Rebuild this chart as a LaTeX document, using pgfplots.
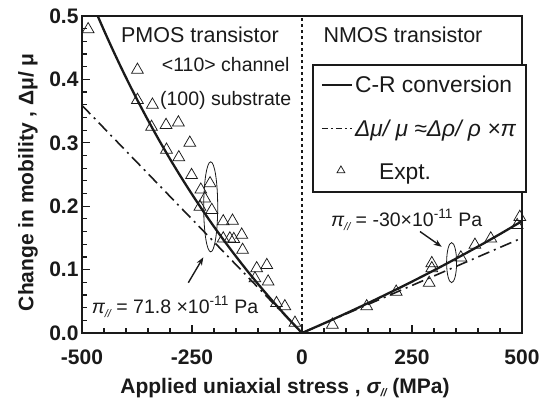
\documentclass[border=0pt]{standalone}
\usepackage{fontspec}
\setmainfont{Liberation Sans}
\usepackage{pgfplots}
\pgfplotsset{compat=1.18}
\usetikzlibrary{calc,arrows.meta}
\definecolor{ink}{HTML}{1A1A1A}
\begin{document}
\begin{tikzpicture}
\begin{axis}[
 name=ax,
 scale only axis, width=440pt, height=317pt,
 xmin=-500, xmax=500, ymin=0, ymax=0.5,
 xtick={-500,-250,0,250,500},
 ytick={0,0.1,0.2,0.3,0.4,0.5},
 minor x tick num=4, minor y tick num=4,
 tick pos=left, tick align=inside,
 major tick length=8pt, minor tick length=5pt,
 every tick/.style={line width=1.2pt, ink},
 axis line style={line width=2.2pt, ink},
 /pgf/number format/assume math mode=true,
 y tick label style={/pgf/number format/fixed, /pgf/number format/fixed zerofill, /pgf/number format/precision=1},
 x tick label style={yshift=-13pt},
 ticklabel style={font=\fontsize{21}{22}\selectfont\bfseries, text=ink},
 xlabel={Applied uniaxial stress , {\itshape σ}\raisebox{-0.35ex}{\fontsize{11}{11}\selectfont\itshape //} (MPa)},
 ylabel={Change in mobility , Δμ/ μ},
 label style={font=\fontsize{21}{24}\selectfont\bfseries, text=ink},
 xlabel style={at={(axis description cs:0.4614,-0.1725)}, anchor=center},
 ylabel style={at={(axis description cs:-0.1227,0.476)}, anchor=center},
 legend style={at={(axis description cs:0.5227,0.8486)}, anchor=north west,
   draw=ink, line width=1.6pt, font=\fontsize{22.8}{25}\selectfont, text=ink,
   row sep=22pt, inner xsep=8pt, inner ysep=9pt, fill=white},
 legend cell align=left,
]
% C-R conversion, PMOS
\addplot[ink, line width=2.3pt, smooth,
  legend image code/.code={\draw[ink, line width=2.3pt] (0pt,0pt) -- (30pt,0pt);}] coordinates {
 (-470,0.5093) (-450,0.47732) (-425,0.43916) (-400,0.40292) (-375,0.36846)
 (-350,0.33565) (-325,0.30438) (-300,0.27454) (-275,0.24603) (-250,0.21877)
 (-225,0.19268) (-200,0.16768) (-175,0.14371) (-150,0.12070) (-125,0.09860)
 (-100,0.07735) (-75,0.05691) (-50,0.03724) (-25,0.01828) (0,0)
};
\addlegendentry{C-R conversion}
% linear approximation, PMOS
\addplot[ink, line width=1.6pt, dash pattern=on 12pt off 5pt on 2pt off 5pt,
  legend image code/.code={\draw[ink, line width=1.3pt, dash pattern=on 6pt off 3pt on 2pt off 3pt] (0pt,0pt) -- (30pt,0pt);}] coordinates {
 (-500,0.359) (0,0)
};
\addlegendentry{\itshape Δμ/ μ ≈Δρ/ ρ ×π}
% experiments
\addplot[only marks, mark=triangle, mark size=6.8pt, ink, line width=0.75pt,
  legend image code/.code={\draw[ink, line width=0.75pt] plot[mark=triangle, mark size=4.5pt] coordinates {(19pt,2pt)};}] coordinates {
 (-486,0.479) (-374,0.415) (-374,0.3675) (-340,0.36) (-342,0.325)
 (-309,0.328) (-281,0.332) (-308,0.289) (-255,0.300) (-280,0.277)
 (-251,0.249) (-209,0.236) (-230,0.226) (-221,0.212) (-232,0.199)
 (-205,0.194) (-179,0.176) (-158,0.177) (-179,0.149) (-164,0.149)
 (-155,0.148) (-137,0.155) (-135,0.131) (-103,0.102) (-80,0.107)
 (-107,0.086) (-77,0.081) (-58,0.047) (-39,0.042) (-16,0.016)
 (69,0.013) (147,0.042) (214,0.065) (295,0.110) (295,0.102)
 (289,0.079) (361,0.119) (393,0.139) (429,0.149) (489,0.170) (495,0.183)
};
\addlegendentry{\hspace{24pt}Expt.}
% C-R conversion, NMOS
\addplot[ink, line width=2.3pt, smooth, forget plot] coordinates {
 (0,0) (50,0.01523) (100,0.03093) (150,0.04712) (200,0.06383) (250,0.08108)
 (300,0.09890) (350,0.11732) (400,0.13636) (450,0.15607) (500,0.17647)
};
% linear approximation, NMOS
\addplot[ink, line width=1.6pt, dash pattern=on 12pt off 5pt on 2pt off 5pt, forget plot] coordinates {
 (0,0) (500,0.15)
};
% divider
\draw[ink, line width=1.5pt, dash pattern=on 3pt off 3pt] (axis cs:0,0) -- (axis cs:0,0.5);
% ellipses and arrows
\draw[ink, line width=0.8pt] (axis cs:-207.5,0.199) ellipse [x radius=7pt, y radius=45pt];
\draw[ink, line width=0.8pt] (axis cs:340,0.111) ellipse [x radius=5pt, y radius=20pt];
\draw[ink, line width=1.4pt, -{Stealth[length=8pt,width=6pt]}] (axis cs:-258.4,0.0793) -- (axis cs:-224.3,0.1194);
\draw[ink, line width=1.4pt, -{Stealth[length=8pt,width=6pt]}] (axis cs:268.2,0.160) -- (axis cs:317.5,0.136);
% texts
\node[text=ink, font=\fontsize{21.5}{24}\selectfont] at (axis cs:-231.8,0.470) {PMOS transistor};
\node[text=ink, font=\fontsize{21.5}{24}\selectfont] at (axis cs:229.5,0.470) {NMOS transistor};
\node[text=ink, font=\fontsize{19.5}{22}\selectfont] at (axis cs:-173.4,0.4227) {<110> channel};
\node[text=ink, font=\fontsize{19.5}{22}\selectfont] at (axis cs:-173.4,0.3675) {(100) substrate};
\node[text=ink, font=\fontsize{19.5}{22}\selectfont] at (axis cs:-288.6,0.0415)
 {{\itshape π}\raisebox{-0.4ex}{\fontsize{11}{11}\selectfont\itshape //} = 71.8 ×10\textsuperscript{-11} Pa};
\node[text=ink, font=\fontsize{19.5}{22}\selectfont] at (axis cs:238,0.178)
 {{\itshape π}\raisebox{-0.4ex}{\fontsize{11}{11}\selectfont\itshape //} = -30×10\textsuperscript{-11} Pa};
\end{axis}
\pgfresetboundingbox
\path ($(ax.south west)+(-82pt,-65pt)$) rectangle ($(ax.north east)+(18pt,16pt)$);
\end{tikzpicture}
\end{document}
